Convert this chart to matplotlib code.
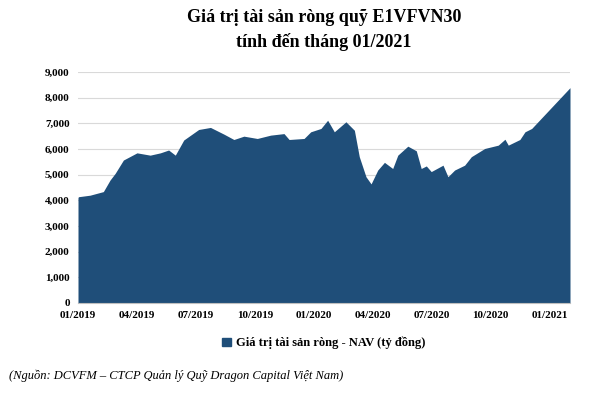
import matplotlib
matplotlib.use("Agg")
import matplotlib.pyplot as plt
from matplotlib.patches import Patch

months = [0.0,0.02,0.61,1.29,1.63,1.89,2.31,3.0,3.67,4.19,4.61,4.95,5.38,6.14,6.74,7.42,7.93,8.44,9.12,9.80,10.48,10.74,11.50,11.84,12.36,12.70,13.04,13.63,14.06,14.31,14.65,14.91,15.25,15.59,16.01,16.27,16.78,17.21,17.46,17.72,17.97,18.57,18.82,19.16,19.67,20.01,20.69,21.38,21.72,21.89,22.48,22.74,23.08,25.03]
nav = [4100,4140,4200,4340,4790,5050,5570,5850,5760,5850,5960,5760,6350,6760,6840,6580,6370,6500,6410,6540,6600,6370,6410,6670,6800,7120,6670,7060,6730,5700,4920,4640,5180,5480,5240,5760,6110,5930,5240,5340,5120,5370,4920,5180,5370,5700,6020,6150,6380,6150,6370,6670,6800,8390]
tick_pos = [0,3,6,9,12,15,18,21,24]
tick_labels = ["01/2019","04/2019","07/2019","10/2019","01/2020","04/2020","07/2020","10/2020","01/2021"]
yticks = list(range(0, 9001, 1000))

plt.rcParams["font.family"] = "Liberation Serif"
fig = plt.figure(figsize=(6,4), dpi=100)
ax = fig.add_axes([0.13, 0.2425, 0.82, 0.5775])
color = "#1f4e79"
ax.fill_between(months, nav, 0, color=color, linewidth=0)
ax.set_xlim(0, 25.03)
ax.set_ylim(0, 9000)
ax.set_yticks(yticks)
ax.set_yticklabels([f"{v:,}" for v in yticks], fontsize=8, fontweight="bold")
ax.set_xticks(tick_pos)
ax.set_xticklabels(tick_labels, fontsize=8, fontweight="bold")
ax.grid(axis="y", color="#d9d9d9", linewidth=0.8)
ax.set_axisbelow(True)
for s in ["top","right","left"]:
    ax.spines[s].set_visible(False)
ax.spines["bottom"].set_color("#bfbfbf")
ax.tick_params(length=0, pad=6)
fig.text(0.54, 0.955, "Giá trị tài sản ròng quỹ E1VFVN30", ha="center", va="center", fontsize=13, fontweight="bold")
fig.text(0.54, 0.895, "tính đến tháng 01/2021", ha="center", va="center", fontsize=13, fontweight="bold")
fig.legend(handles=[Patch(color=color, label="Giá trị tài sản ròng - NAV (tỷ đồng)")], loc="center", bbox_to_anchor=(0.54, 0.142), frameon=False, prop={"size":9, "weight":"bold"}, handlelength=0.7, handleheight=0.7, handletextpad=0.4)
fig.text(0.015, 0.06, "(Nguồn: DCVFM – CTCP Quản lý Quỹ Dragon Capital Việt Nam)", fontsize=9, style="italic", va="center")
fig.savefig("out.png")
